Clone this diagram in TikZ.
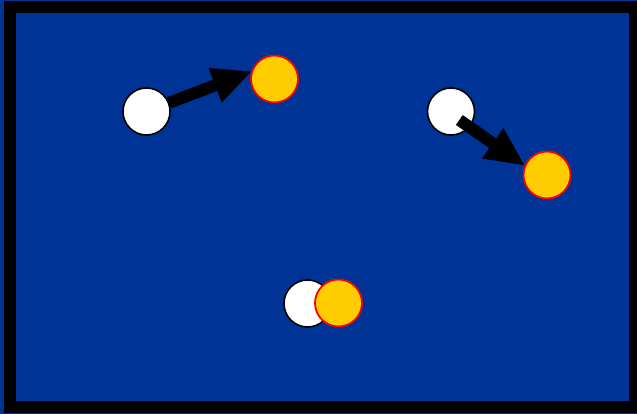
\documentclass[tikz,border=0pt]{standalone}
\usetikzlibrary{arrows.meta}
\definecolor{bgblue}{RGB}{0,51,150}
\definecolor{sunyellow}{RGB}{255,204,0}
\definecolor{ringred}{RGB}{255,0,0}
\tikzset{
  whiteball/.style={circle, draw=black, fill=white, line width=1.6pt, minimum size=47pt, inner sep=0pt},
  yellowball/.style={circle, draw=ringred, fill=sunyellow, line width=1.8pt, minimum size=47pt, inner sep=0pt},
  bigarrow/.style={draw=black, line width=12pt, -{Triangle[length=38pt,width=37pt,line width=0.01pt]}, shorten >=0pt}
}
\begin{document}
\begin{tikzpicture}[x=1pt,y=-1pt]
\useasboundingbox (0,0) rectangle (637,414);
\fill[bgblue] (0,0) rectangle (637,414);
\begin{scope}
\clip (0,0) rectangle (637,414);
\draw[black, line width=12pt] (10,7) rectangle (635,407);
\end{scope}
% balls
\node[whiteball] (w1) at (146.5,111.5) {};
\node[yellowball] (y1) at (274.5,79) {};
\node[whiteball] (w2) at (451,111.5) {};
\node[yellowball] (y2) at (547,175) {};
\node[whiteball] (w3) at (307.5,303.5) {};
\node[yellowball] (y3) at (338.5,303) {};
% arrows
\coordinate (t1) at (250.7,71.7);
\coordinate (s2) at (459.3,120);
\coordinate (t2) at (524,165);
\draw[bigarrow] (w1) -- (t1);
\draw[bigarrow] (s2) -- (t2);
\end{tikzpicture}
\end{document}
